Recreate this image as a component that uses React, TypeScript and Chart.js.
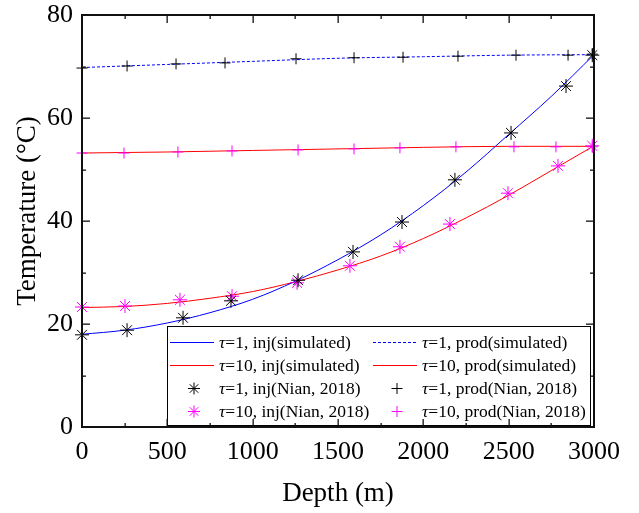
import React, { useEffect, useRef } from "react";
import { Chart, registerables } from "chart.js";

Chart.register(...registerables);

// ---- data ----
const simDepth = [0, 250, 500, 750, 1000, 1250, 1500, 1750, 2000, 2250, 2500, 2750, 3000];
const inj1Sim = [18.0, 18.8, 20.2, 22.2, 24.8, 28.3, 32.5, 37.3, 43.0, 49.5, 56.8, 64.2, 72.3];
const inj10Sim = [23.2, 23.4, 24.0, 25.0, 26.3, 28.2, 30.5, 33.2, 36.6, 40.6, 45.0, 49.8, 54.6];
const prodSimDepth = [0, 500, 1000, 1500, 2000, 2500, 3000];
const prod1Sim = [69.8, 70.4, 71.0, 71.6, 71.9, 72.2, 72.3];
const prod10Sim = [53.2, 53.4, 53.7, 54.0, 54.3, 54.5, 54.5];

const inj1NianDepth = [0, 264, 592, 873, 1266, 1588, 1875, 2185, 2514, 2836, 2990];
const inj1Nian = [17.9, 18.8, 21.2, 24.5, 28.5, 34.0, 39.8, 48.0, 57.1, 66.2, 72.2];
const inj10NianDepth = [0, 252, 574, 879, 1260, 1570, 1863, 2156, 2496, 2789, 2990];
const inj10Nian = [23.3, 23.5, 24.7, 25.4, 28.0, 31.3, 35.0, 39.4, 45.4, 50.7, 54.6];
const prod1NianDepth = [0, 264, 551, 838, 1254, 1594, 1881, 2203, 2543, 2848, 2990];
const prod1Nian = [69.7, 70.1, 70.5, 70.7, 71.5, 71.7, 71.8, 72.0, 72.2, 72.2, 72.4];
const prod10NianDepth = [0, 246, 562, 879, 1266, 1594, 1863, 2191, 2531, 2777, 2990];
const prod10Nian = [53.2, 53.2, 53.4, 53.6, 53.8, 54.0, 54.2, 54.4, 54.4, 54.4, 54.4];

const xMajorTicks = [0, 500, 1000, 1500, 2000, 2500, 3000];
const xMinorTicks = [250, 750, 1250, 1750, 2250, 2750];
const yMajorTicks = [0, 20, 40, 60, 80];
const yMinorTicks = [10, 30, 50, 70];

const xTitle = "Depth (m)";
const yTitle = "Temperature (°C)";

const legendItems = [
  { tau: "τ", rest: "=1, inj(simulated)", kind: "line", color: "#0000ff", dash: false },
  { tau: "τ", rest: "=1, prod(simulated)", kind: "line", color: "#0000ff", dash: true },
  { tau: "τ", rest: "=10, inj(simulated)", kind: "line", color: "#ff0000", dash: false },
  { tau: "τ", rest: "=10, prod(simulated)", kind: "line", color: "#ff0000", dash: false },
  { tau: "τ", rest: "=1, inj(Nian, 2018)", kind: "star", color: "#000000", dash: false },
  { tau: "τ", rest: "=1, prod(Nian, 2018)", kind: "cross", color: "#000000", dash: false },
  { tau: "τ", rest: "=10, inj(Nian, 2018)", kind: "star", color: "#ff00ff", dash: false },
  { tau: "τ", rest: "=10, prod(Nian, 2018)", kind: "cross", color: "#ff00ff", dash: false },
];

const FONT = "'Liberation Serif', 'Times New Roman', serif";

const toXY = (xs: number[], ys: number[]) => xs.map((x, i) => ({ x, y: ys[i] }));

function drawMarker(ctx: CanvasRenderingContext2D, kind: string, cx: number, cy: number, r: number, color: string) {
  ctx.save();
  ctx.strokeStyle = color;
  ctx.lineWidth = 1;
  ctx.setLineDash([]);
  ctx.beginPath();
  ctx.moveTo(cx, cy - r);
  ctx.lineTo(cx, cy + r);
  ctx.moveTo(cx - r, cy);
  ctx.lineTo(cx + r, cy);
  if (kind === "star") {
    const d = r * Math.SQRT1_2;
    ctx.moveTo(cx - d, cy - d);
    ctx.lineTo(cx + d, cy + d);
    ctx.moveTo(cx - d, cy + d);
    ctx.lineTo(cx + d, cy - d);
  }
  ctx.stroke();
  ctx.restore();
}

const framePlugin = {
  id: "frameAndLegend",
  afterDraw(chart: any) {
    const ctx: CanvasRenderingContext2D = chart.ctx;
    const left = Math.round(chart.chartArea.left);
    const right = Math.round(chart.chartArea.right);
    const top = Math.round(chart.chartArea.top);
    const bottom = Math.round(chart.chartArea.bottom);
    const xs = chart.scales.x;
    const ys = chart.scales.y;

    ctx.save();
    ctx.globalAlpha = 1;
    ctx.globalCompositeOperation = "source-over";

    // legend box
    const bx = left + 85;
    const bh = 101;
    const by = bottom - bh;
    const bw = right - 3 - bx;
    ctx.fillStyle = "#ffffff";
    ctx.fillRect(bx, by, bw, bh);
    ctx.fillStyle = "#000000";
    ctx.fillRect(bx, by, bw, 1);
    ctx.fillRect(bx, by + bh - 2, bw, 1);
    ctx.fillRect(bx, by, 1, bh);
    ctx.fillRect(bx + bw - 1, by, 1, bh);

    const colX = [bx + 3, bx + 206];
    legendItems.forEach((it, i) => {
      const col = i % 2;
      const row = Math.floor(i / 2);
      const cy = by + 16 + row * 23;
      const x0 = colX[col];
      if (it.kind === "line") {
        ctx.fillStyle = it.color;
        if (it.dash) {
          for (let k = 0; k < 44; k += 5) ctx.fillRect(x0 + k, cy, Math.min(3, 44 - k), 1);
        } else {
          ctx.fillRect(x0, cy, 44, 1);
        }
      } else {
        drawMarker(ctx, it.kind, x0 + 24, cy + 0.5, it.kind === "star" ? 6 : 5.5, it.color);
      }
      ctx.fillStyle = "#000";
      ctx.textBaseline = "middle";
      ctx.textAlign = "left";
      ctx.font = `italic 17.5px ${FONT}`;
      const tx = x0 + 49;
      ctx.fillText(it.tau, tx, cy + 1);
      const tw = ctx.measureText(it.tau).width;
      ctx.font = `17.5px ${FONT}`;
      ctx.fillText(it.rest, tx + tw, cy + 1);
    });

    // frame
    ctx.fillStyle = "#111111";
    ctx.fillRect(left - 1, top - 1, right - left + 2, 2);
    ctx.fillRect(left - 1, bottom - 1, right - left + 2, 2);
    ctx.fillRect(left - 1, top - 1, 2, bottom - top + 2);
    ctx.fillRect(right - 1, top - 1, 2, bottom - top + 2);

    // inward ticks on all four sides
    const tickX = (v: number, len: number) => {
      const p = Math.round(xs.getPixelForValue(v));
      ctx.fillRect(p - 0.5, bottom - len, 1.3, len);
      ctx.fillRect(p - 0.5, top, 1.3, len);
    };
    const tickY = (v: number, len: number) => {
      const p = Math.round(ys.getPixelForValue(v));
      ctx.fillRect(left, p - 0.5, len, 1.3);
      ctx.fillRect(right - len, p - 0.5, len, 1.3);
    };
    xMajorTicks.forEach((v) => tickX(v, 8));
    xMinorTicks.forEach((v) => tickX(v, 4));
    yMajorTicks.forEach((v) => tickY(v, 8));
    yMinorTicks.forEach((v) => tickY(v, 4));

    // y title
    ctx.fillStyle = "#000";
    ctx.font = `27px ${FONT}`;
    ctx.textAlign = "center";
    ctx.textBaseline = "middle";
    ctx.translate(28, 211);
    ctx.rotate(-Math.PI / 2);
    ctx.fillText(yTitle, 0, 0);
    ctx.restore();
  },
};

export default function App() {
  const ref = useRef<HTMLCanvasElement | null>(null);

  useEffect(() => {
    if (!ref.current) return;
    Chart.defaults.font.family = FONT;
    Chart.defaults.color = "#000";

    const lineDs = (label: string, data: any, color: string, dash: number[]) => ({
      type: "line" as const,
      label,
      data,
      borderColor: color,
      backgroundColor: color,
      borderWidth: 1,
      borderDash: dash,
      pointRadius: 0,
      cubicInterpolationMode: "monotone" as const,
      fill: false,
      order: 2,
    });
    const markDs = (label: string, data: any, color: string, style: string, r: number) => ({
      type: "line" as const,
      label,
      data,
      showLine: false,
      borderColor: color,
      backgroundColor: color,
      pointStyle: style,
      pointRadius: r,
      pointBorderWidth: 1,
      pointBorderColor: color,
      clip: false,
      order: 1,
    });

    const chart = new Chart(ref.current, {
      type: "line",
      data: {
        datasets: [
          lineDs("τ=1, inj(simulated)", toXY(simDepth, inj1Sim), "#0000ff", []),
          lineDs("τ=1, prod(simulated)", toXY(prodSimDepth, prod1Sim), "#0000ff", [3, 2]),
          lineDs("τ=10, inj(simulated)", toXY(simDepth, inj10Sim), "#ff0000", []),
          lineDs("τ=10, prod(simulated)", toXY(prodSimDepth, prod10Sim), "#ff0000", []),
          markDs("τ=1, inj(Nian, 2018)", toXY(inj1NianDepth, inj1Nian), "#000000", "star", 7),
          markDs("τ=1, prod(Nian, 2018)", toXY(prod1NianDepth, prod1Nian), "#000000", "cross", 5.5),
          markDs("τ=10, inj(Nian, 2018)", toXY(inj10NianDepth, inj10Nian), "#ff00ff", "star", 7),
          markDs("τ=10, prod(Nian, 2018)", toXY(prod10NianDepth, prod10Nian), "#ff00ff", "cross", 5.5),
        ] as any,
      },
      options: {
        animation: false,
        responsive: false,
        layout: { padding: { top: 15, right: 45, left: 0, bottom: 0 } },
        plugins: {
          legend: { display: false },
          tooltip: { enabled: false },
        },
        scales: {
          x: {
            type: "linear",
            min: 0,
            max: 3000,
            grid: { display: false, drawTicks: false },
            border: { display: false },
            afterBuildTicks: (s: any) => {
              s.ticks = xMajorTicks.map((v) => ({ value: v }));
            },
            ticks: {
              padding: 10,
              maxRotation: 0,
              autoSkip: false,
              font: { size: 26, family: FONT },
              color: "#000",
              callback: (v: any) => String(v),
            },
            title: {
              display: true,
              text: xTitle,
              font: { size: 27, family: FONT },
              color: "#000",
              padding: { top: 0, bottom: 3 },
            },
            afterFit: (s: any) => {
              s.height = 86;
              s.paddingLeft = 0;
              s.paddingRight = 0;
            },
          },
          y: {
            type: "linear",
            min: 0,
            max: 80,
            grid: { display: false, drawTicks: false },
            border: { display: false },
            afterBuildTicks: (s: any) => {
              s.ticks = yMajorTicks.map((v) => ({ value: v }));
            },
            ticks: {
              padding: 9,
              autoSkip: false,
              font: { size: 26, family: FONT },
              color: "#000",
              callback: (v: any) => String(v),
            },
            title: { display: false },
            afterFit: (s: any) => {
              s.width = 82;
              s.paddingTop = 0;
              s.paddingBottom = 0;
            },
          },
        },
      },
      plugins: [framePlugin],
    });
    return () => chart.destroy();
  }, []);

  return (
    <div style={{ position: "fixed", left: 0, top: 0, width: 639, height: 513, background: "#fff" }}>
      <canvas ref={ref} width={639} height={513} style={{ display: "block" }} />
    </div>
  );
}
